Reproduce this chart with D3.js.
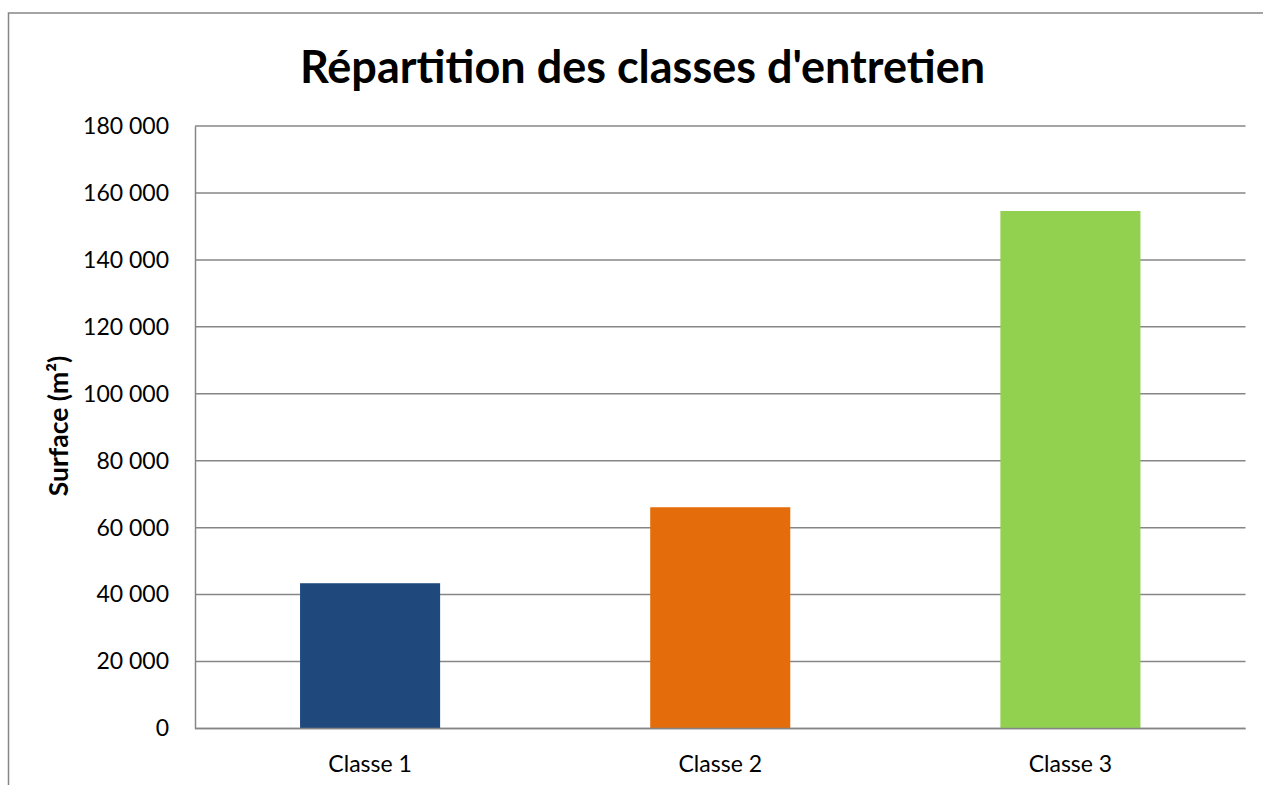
<!DOCTYPE html>
<html>
<head>
<meta charset="utf-8">
<script src="https://cdn.jsdelivr.net/npm/d3@7/dist/d3.min.js"></script>
<style>
  html, body { margin: 0; padding: 0; background: #fff; }
  svg { display: block; }
  text { font-family: Lato, "Noto Sans", sans-serif; fill: #000; }
</style>
</head>
<body>
<svg id="chart" width="1263" height="785"></svg>
<script>
// Surface per maintenance class (m²)
const categories = ["Classe 1", "Classe 2", "Classe 3"];
const surfaces = [43400, 66100, 154600];
const barColors = ["#1F497D", "#E46C0A", "#92D050"];
const yTicks = [0, 20000, 40000, 60000, 80000, 100000, 120000, 140000, 160000, 180000];
const chartTitle = "Répartition des classes d'entretien";
const yAxisTitle = "Surface (m²)";

const W = 1263, H = 785;
const plot = { left: 195, right: 1245.5, top: 126, bottom: 728.5 };
const gridColor = "#868686";

const svg = d3.select("#chart");

// outer chart frame
svg.append("rect")
  .attr("x", 8.5).attr("y", 13)
  .attr("width", W + 10).attr("height", H + 10)
  .attr("fill", "none")
  .attr("stroke", gridColor)
  .attr("stroke-width", 1.5);

const x = d3.scaleBand()
  .domain(categories)
  .range([plot.left, plot.right])
  .paddingInner(0.6)
  .paddingOuter(0.3);

const y = d3.scaleLinear()
  .domain([0, 180000])
  .range([plot.bottom, plot.top]);

const fmt = v => d3.format(",")(v).replace(/,/g, " ");

// horizontal gridlines
svg.append("g")
  .selectAll("line")
  .data(yTicks)
  .join("line")
  .attr("x1", plot.left).attr("x2", plot.right)
  .attr("y1", d => y(d)).attr("y2", d => y(d))
  .attr("stroke", gridColor)
  .attr("stroke-width", 1.5);

// y axis
const yAxis = svg.append("g")
  .attr("transform", `translate(${plot.left},0)`)
  .call(d3.axisLeft(y).tickValues(yTicks).tickFormat(fmt).tickSize(0).tickPadding(26));
yAxis.select(".domain").attr("stroke", gridColor).attr("stroke-width", 1.5);
yAxis.selectAll("text")
  .style("font-family", "Lato, sans-serif")
  .style("font-size", "23px")
  .attr("fill", "#000");

// bars
svg.append("g")
  .selectAll("rect")
  .data(surfaces)
  .join("rect")
  .attr("x", (d, i) => x(categories[i]))
  .attr("width", x.bandwidth())
  .attr("y", d => y(d))
  .attr("height", d => y(0) - y(d))
  .attr("fill", (d, i) => barColors[i]);

// x axis
const xAxis = svg.append("g")
  .attr("transform", `translate(0,${plot.bottom})`)
  .call(d3.axisBottom(x).tickSize(0).tickPadding(27));
xAxis.select(".domain").remove();
xAxis.selectAll("text")
  .style("font-family", "Lato, sans-serif")
  .style("font-size", "23px")
  .attr("fill", "#000");

// baseline drawn over the bars
svg.append("line")
  .attr("x1", plot.left).attr("x2", plot.right)
  .attr("y1", y(0)).attr("y2", y(0))
  .attr("stroke", gridColor)
  .attr("stroke-width", 1.5);

// titles
svg.append("text")
  .attr("x", 642.5).attr("y", 83)
  .attr("text-anchor", "middle")
  .style("font-size", "45px")
  .style("font-weight", "bold")
  .text(chartTitle);

svg.append("text")
  .attr("transform", `translate(68,426) rotate(-90)`)
  .attr("text-anchor", "middle")
  .style("font-size", "26.5px")
  .style("font-weight", "bold")
  .text(yAxisTitle);
</script>
</body>
</html>
